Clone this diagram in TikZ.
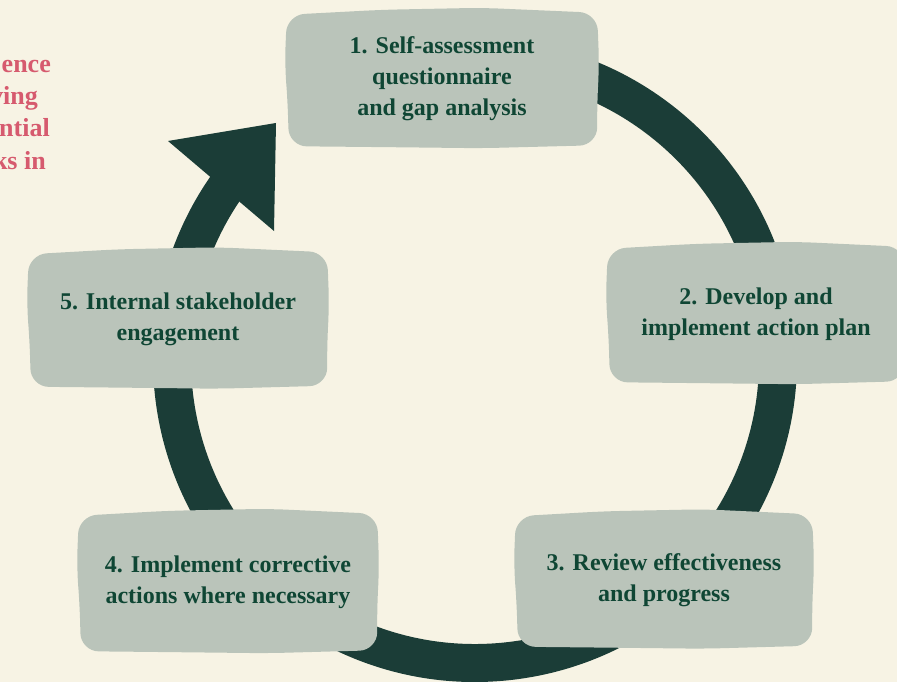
\documentclass[tikz,border=0pt]{standalone}
\usepackage{fontspec}
\setmainfont{Liberation Serif}
\usetikzlibrary{calc,backgrounds}
\definecolor{bgc}{HTML}{F7F3E4}
\definecolor{ringc}{HTML}{1B3D37}
\definecolor{boxc}{HTML}{BAC4BA}
\definecolor{txtc}{HTML}{0F4634}
\definecolor{pinkc}{HTML}{D65A6E}
\newcommand\blobfill[2]{%
  \begin{scope}[shift={(0,#2)}]
  \fill[boxc, rounded corners=18pt]
    ($(#1.north west)+(1,5)$) -- ($(#1.north)+(-60,0)$) -- ($(#1.north)+(40,-2)$) --
    ($(#1.north east)+(-1,3)$) -- ($(#1.east)+(1,-12)$) -- ($(#1.east)+(-1,20)$) --
    ($(#1.south east)+(-1,-3)$) -- ($(#1.south)+(40,0)$) -- ($(#1.south)+(-50,-1)$) --
    ($(#1.south west)+(3,-2)$) -- ($(#1.west)+(2,25)$) -- ($(#1.west)+(-1,-15)$) -- cycle;
  \end{scope}}
\begin{document}
\begin{tikzpicture}[x=1pt,y=-1pt,
  stagebox/.style={text=txtc, font=\bfseries\fontsize{24}{31}\selectfont,
    align=center, inner sep=0pt},
  sidetext/.style={text=pinkc, font=\bfseries\fontsize{26}{32}\selectfont,
    anchor=base east, inner sep=0pt},
  ringline/.style={draw=ringc, line width=38pt}]
\useasboundingbox (0,0) rectangle (897,682);
% stage nodes (text centres, box sizes)
\node[stagebox, minimum width=312pt, minimum height=138pt] (s1) at (442,79)
  {1. Self-assessment\\questionnaire\\and gap analysis};
\node[stagebox, minimum width=298pt, minimum height=140pt] (s2) at (756,314)
  {2. Develop and\\implement action plan};
\node[stagebox, minimum width=298pt, minimum height=137pt] (s3) at (664,580)
  {3. Review effectiveness\\and progress};
\node[stagebox, minimum width=300pt, minimum height=142pt] (s4) at (228,582)
  {4. Implement corrective\\actions where necessary};
\node[stagebox, minimum width=300pt, minimum height=139pt] (s5) at (178,319)
  {5. Internal stakeholder\\engagement};
% side text, cut off at the left edge as in the source
\node[sidetext] (p1) at (51,73) {ence};
\node[sidetext] (p2) at (38,105) {ving};
\node[sidetext] (p3) at (50,137) {ntial};
\node[sidetext] (p4) at (46,169) {ks in};
\coordinate (c) at (475,360);
\coordinate (tip) at (276,123);
\coordinate (bout) at (168,141);
\coordinate (bin) at (274,231);
\begin{scope}[on background layer]
  \clip (0,0) rectangle (897,682);
  \fill[bgc] (0,0) rectangle (897,682);
  \draw[ringline] (c) ++(-95:303) arc[start angle=-95, end angle=216, radius=303];
  \fill[ringc] (bout) -- (tip) -- (bin) -- cycle;
  \blobfill{s1}{0}
  \blobfill{s2}{3}
  \blobfill{s3}{3.5}
  \blobfill{s4}{2}
  \blobfill{s5}{-1.5}
\end{scope}
\end{tikzpicture}
\end{document}
